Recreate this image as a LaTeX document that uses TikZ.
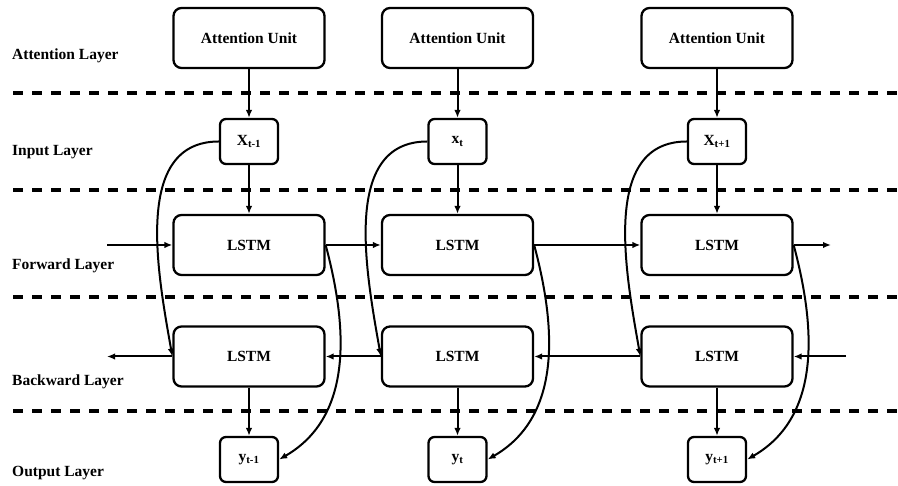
\documentclass[tikz,border=0pt]{standalone}
\usepackage{fontspec}
\setmainfont{Liberation Serif}
\usetikzlibrary{positioning, arrows.meta}

\tikzset{
  unitbox/.style={draw, line width=2.3pt, rounded corners=8pt, minimum width=151pt,
    minimum height=60pt, inner sep=0pt, font=\fontsize{15.5}{18}\selectfont\bfseries},
  smallbox/.style={unitbox, minimum width=58pt, minimum height=45pt, rounded corners=6pt},
  layerlabel/.style={anchor=west, inner sep=0pt, font=\fontsize{15.5}{18}\selectfont\bfseries},
  layersep/.style={line width=3.5pt, dash pattern=on 10pt off 9pt},
  flow/.style={line width=2pt, -{Latex[length=8pt,width=6.5pt]}},
}

\begin{document}
\begin{tikzpicture}[x=1pt, y=1pt]
\useasboundingbox (0,0) rectangle (898,486);

% layer names
\node[layerlabel] (lab1) at (12,430) {Attention Layer};
\node[layerlabel] (lab2) at (12,334) {Input Layer};
\node[layerlabel] (lab3) at (12,220) {Forward Layer};
\node[layerlabel] (lab4) at (12,104) {Backward Layer};
\node[layerlabel] (lab5) at (12,13) {Output Layer};

\draw[layersep] (13,393) -- (898,393);
\draw[layersep] (13,296) -- (898,296);
\draw[layersep] (13,189) -- (898,189);
\draw[layersep] (13,75) -- (898,75);

% column t-1
\node[unitbox] (att1) at (249,448) {Attention Unit};
\node[smallbox] (in1) at (249,344.5) {X\textsubscript{t-1}};
\node[unitbox] (fw1) at (249,241) {LSTM};
\node[unitbox] (bw1) at (249,129.5) {LSTM};
\node[smallbox] (out1) at (249,26.5) {y\textsubscript{t-1}};

% column t
\node[unitbox] (att2) at (457.5,448) {Attention Unit};
\node[smallbox] (in2) at (457.5,344.5) {x\textsubscript{t}};
\node[unitbox] (fw2) at (457.5,241) {LSTM};
\node[unitbox] (bw2) at (457.5,129.5) {LSTM};
\node[smallbox] (out2) at (457.5,26.5) {y\textsubscript{t}};

% column t+1
\node[unitbox] (att3) at (717,448) {Attention Unit};
\node[smallbox] (in3) at (717,344.5) {X\textsubscript{t+1}};
\node[unitbox] (fw3) at (717,241) {LSTM};
\node[unitbox] (bw3) at (717,129.5) {LSTM};
\node[smallbox] (out3) at (717,26.5) {y\textsubscript{t+1}};

\coordinate (fwin) at (107,241);
\coordinate (fwout) at (831,241);
\coordinate (bwin) at (846,129.5);
\coordinate (bwout) at (107,129.5);

% vertical links
\draw[flow] (att1) -- (in1);
\draw[flow] (in1) -- (fw1);
\draw[flow] (bw1) -- (out1);
\draw[flow] (att2) -- (in2);
\draw[flow] (in2) -- (fw2);
\draw[flow] (bw2) -- (out2);
\draw[flow] (att3) -- (in3);
\draw[flow] (in3) -- (fw3);
\draw[flow] (bw3) -- (out3);

% forward and backward chains
\draw[flow] (fwin) -- (fw1.west);
\draw[flow] (fw1.east) -- (fw2.west);
\draw[flow] (fw2.east) -- (fw3.west);
\draw[flow] (fw3.east) -- (fwout);
\draw[flow] (bwin) -- (bw3.east);
\draw[flow] (bw3.west) -- (bw2.east);
\draw[flow] (bw2.west) -- (bw1.east);
\draw[flow] (bw1.west) -- (bwout);

% input to backward, forward to output
\draw[flow] (in1.west) to[out=180, in=100] (bw1.west);
\draw[flow] (in2.west) to[out=180, in=100] (bw2.west);
\draw[flow] (in3.west) to[out=180, in=100] (bw3.west);
\draw[flow] (fw1.east) to[out=-75, in=30] (out1.east);
\draw[flow] (fw2.east) to[out=-75, in=30] (out2.east);
\draw[flow] (fw3.east) to[out=-75, in=30] (out3.east);
\end{tikzpicture}
\end{document}
